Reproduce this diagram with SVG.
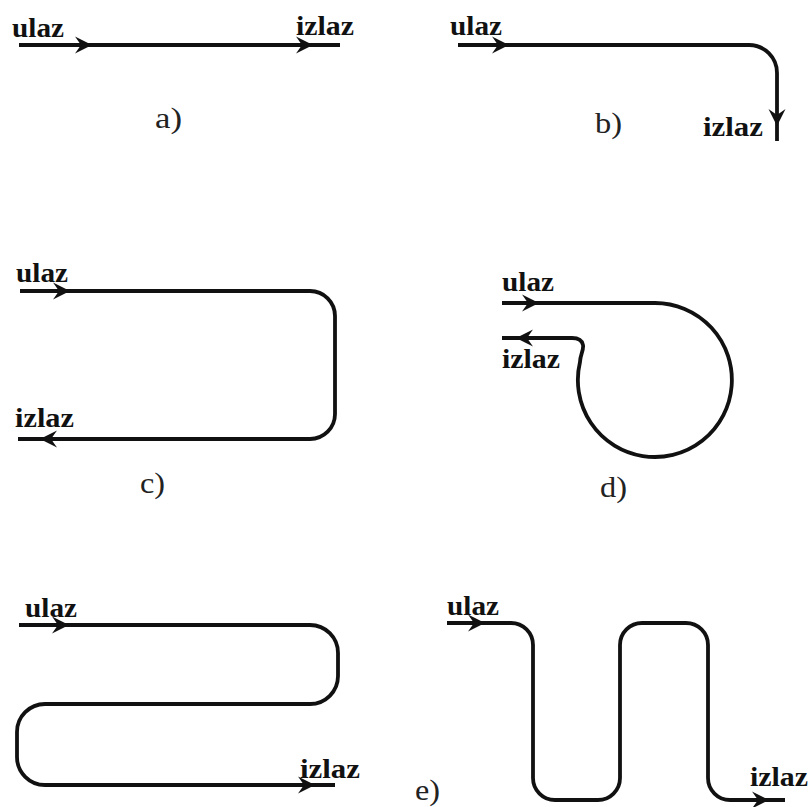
<svg xmlns="http://www.w3.org/2000/svg" xmlns:xlink="http://www.w3.org/1999/xlink" width="810" height="807" viewBox="0 0 810 807">
<style>
.ln{fill:none;stroke:#111;stroke-width:3.8;stroke-linejoin:round}
.t{font-family:'Liberation Serif','Times New Roman',Times,serif;font-weight:700;font-size:27px;fill:#111}
.lb{font-family:'Liberation Serif','Times New Roman',Times,serif;font-size:29px;fill:#222}
</style>
<defs>
<path id="ah" d="M1,0 L-16,-8.5 L-10,0 L-16,8.5 Z" fill="#111"/>
</defs>
<rect width="810" height="807" fill="#fff"/>
<g id="connectors">
<path id="pa" class="ln" d="M19,45 H340"/>
<path id="pb" class="ln" d="M458,45 H749 A28,28 0 0 1 777,73 V141"/>
<path id="pc" class="ln" d="M20,291 H310 A25,25 0 0 1 335,316 V414 A25,25 0 0 1 310,439 H18"/>
<path id="pd" class="ln" d="M502,303 H655 A77,77 0 1 1 580,362 C580,355 584,350 583,345 C582,340 578,338 572,338 H502"/>
<path id="pe1" class="ln" d="M19,625 H310 A28,28 0 0 1 338,653 V676 A28,28 0 0 1 310,704 H45 A28,28 0 0 0 17,732 V757 A28,28 0 0 0 45,785 H335"/>
<path id="pe2" class="ln" d="M447,623 H511 A22,22 0 0 1 533,645 V778 A22,22 0 0 0 555,800 H598 A22,22 0 0 0 620,778 V645 A22,22 0 0 1 642,623 H686 A22,22 0 0 1 708,645 V778 A22,22 0 0 0 730,800 H785"/>
<use xlink:href="#ah" transform="translate(91,45)"/>
<use xlink:href="#ah" transform="translate(312,45)"/>
<use xlink:href="#ah" transform="translate(508,45)"/>
<use xlink:href="#ah" transform="translate(777,125) rotate(90)"/>
<use xlink:href="#ah" transform="translate(69,291)"/>
<use xlink:href="#ah" transform="translate(41,439) rotate(180)"/>
<use xlink:href="#ah" transform="translate(538,303)"/>
<use xlink:href="#ah" transform="translate(517,338) rotate(180)"/>
<use xlink:href="#ah" transform="translate(68,625)"/>
<use xlink:href="#ah" transform="translate(314,785)"/>
<use xlink:href="#ah" transform="translate(484,623)"/>
<use xlink:href="#ah" transform="translate(768,800)"/>
</g>
<g id="fig-a">
<text class="t" x="12" y="37" textLength="52" lengthAdjust="spacingAndGlyphs">ulaz</text>
<text class="t" x="296" y="35" textLength="58" lengthAdjust="spacingAndGlyphs">izlaz</text>
<text class="lb" x="155" y="128" textLength="27" lengthAdjust="spacingAndGlyphs">a)</text>
</g>
<g id="fig-b">
<text class="t" x="450" y="35" textLength="52" lengthAdjust="spacingAndGlyphs">ulaz</text>
<text class="t" x="703" y="136" textLength="60" lengthAdjust="spacingAndGlyphs">izlaz</text>
<text class="lb" x="595" y="133" textLength="27" lengthAdjust="spacingAndGlyphs">b)</text>
</g>
<g id="fig-c">
<text class="t" x="16" y="282" textLength="52" lengthAdjust="spacingAndGlyphs">ulaz</text>
<text class="t" x="15" y="427" textLength="59" lengthAdjust="spacingAndGlyphs">izlaz</text>
<text class="lb" x="140" y="493" textLength="25" lengthAdjust="spacingAndGlyphs">c)</text>
</g>
<g id="fig-d">
<text class="t" x="502" y="291" textLength="52" lengthAdjust="spacingAndGlyphs">ulaz</text>
<text class="t" x="502" y="368" textLength="58" lengthAdjust="spacingAndGlyphs">izlaz</text>
<text class="lb" x="600" y="497" textLength="27" lengthAdjust="spacingAndGlyphs">d)</text>
</g>
<g id="fig-e">
<text class="t" x="25" y="617" textLength="52" lengthAdjust="spacingAndGlyphs">ulaz</text>
<text class="t" x="300" y="778" textLength="60" lengthAdjust="spacingAndGlyphs">izlaz</text>
<text class="t" x="447" y="615" textLength="52" lengthAdjust="spacingAndGlyphs">ulaz</text>
<text class="t" x="750" y="786" textLength="58" lengthAdjust="spacingAndGlyphs">izlaz</text>
<text class="lb" x="415" y="800" textLength="25" lengthAdjust="spacingAndGlyphs">e)</text>
</g>
</svg>
